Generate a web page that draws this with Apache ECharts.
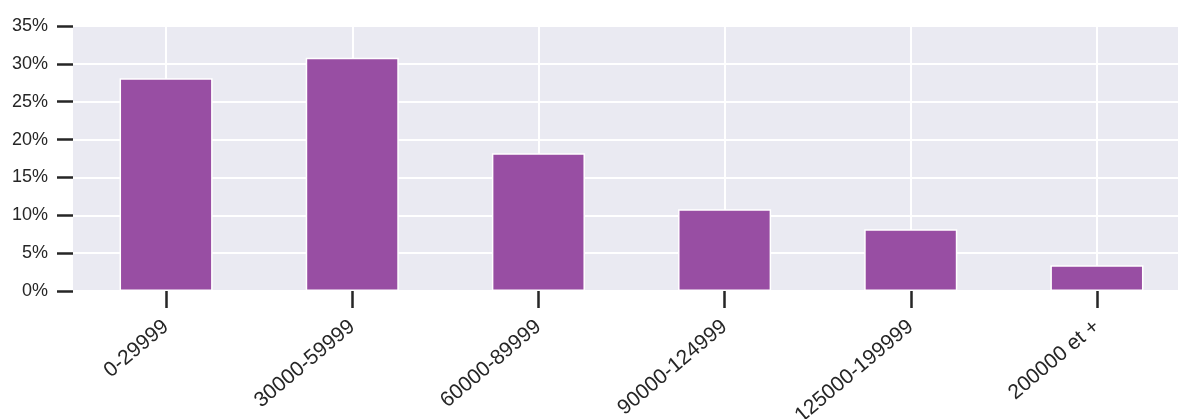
<!DOCTYPE html>
<html>
<head>
<meta charset="utf-8">
<script src="https://cdn.jsdelivr.net/npm/echarts@6/dist/echarts.min.js"></script>
<style>html,body{margin:0;padding:0;background:#fff;overflow:hidden;}#c{width:1190px;height:419px;}</style>
</head>
<body>
<div id="c"></div>
<script>
const categories = ['0-29999', '30000-59999', '60000-89999', '90000-124999', '125000-199999', '200000 et +'];
const shares = [28.1, 30.8, 18.2, 10.8, 8.15, 3.4];
const yTicks = [0, 5, 10, 15, 20, 25, 30, 35];

const chart = echarts.init(document.getElementById('c'), null, {renderer: 'canvas'});
chart.setOption({
  animation: false,
  backgroundColor: '#ffffff',
  grid: {left: 73, right: 0, top: 26, bottom: 128, show: true, backgroundColor: '#EAEAF2', borderWidth: 0, containLabel: false, outerBoundsMode: 'none'},
  xAxis: {
    type: 'category',
    data: categories,
    axisLine: {show: false},
    axisTick: {show: true, alignWithLabel: true, length: 17, lineStyle: {color: '#262626', width: 2.5}},
    splitLine: {show: true, alignWithLabel: true, lineStyle: {color: '#ffffff', width: 2}},
    axisLabel: {rotate: 40, color: '#262626', fontSize: 21, fontFamily: 'Liberation Sans, Arial, sans-serif', margin: 33, interval: 0}
  },
  yAxis: {
    type: 'value',
    min: yTicks[0],
    max: yTicks[yTicks.length - 1],
    interval: 5,
    axisLine: {show: false},
    axisTick: {show: true, length: 16, lineStyle: {color: '#262626', width: 2.5}},
    splitLine: {show: true, lineStyle: {color: '#ffffff', width: 2}},
    axisLabel: {formatter: '{value}%', color: '#262626', fontSize: 18, fontFamily: 'Liberation Sans, Arial, sans-serif', margin: 25}
  },
  series: [{
    type: 'bar',
    data: shares,
    barWidth: '50%',
    itemStyle: {color: '#984EA3', borderColor: '#ffffff', borderWidth: 1.5}
  }]
});
</script>
</body>
</html>
